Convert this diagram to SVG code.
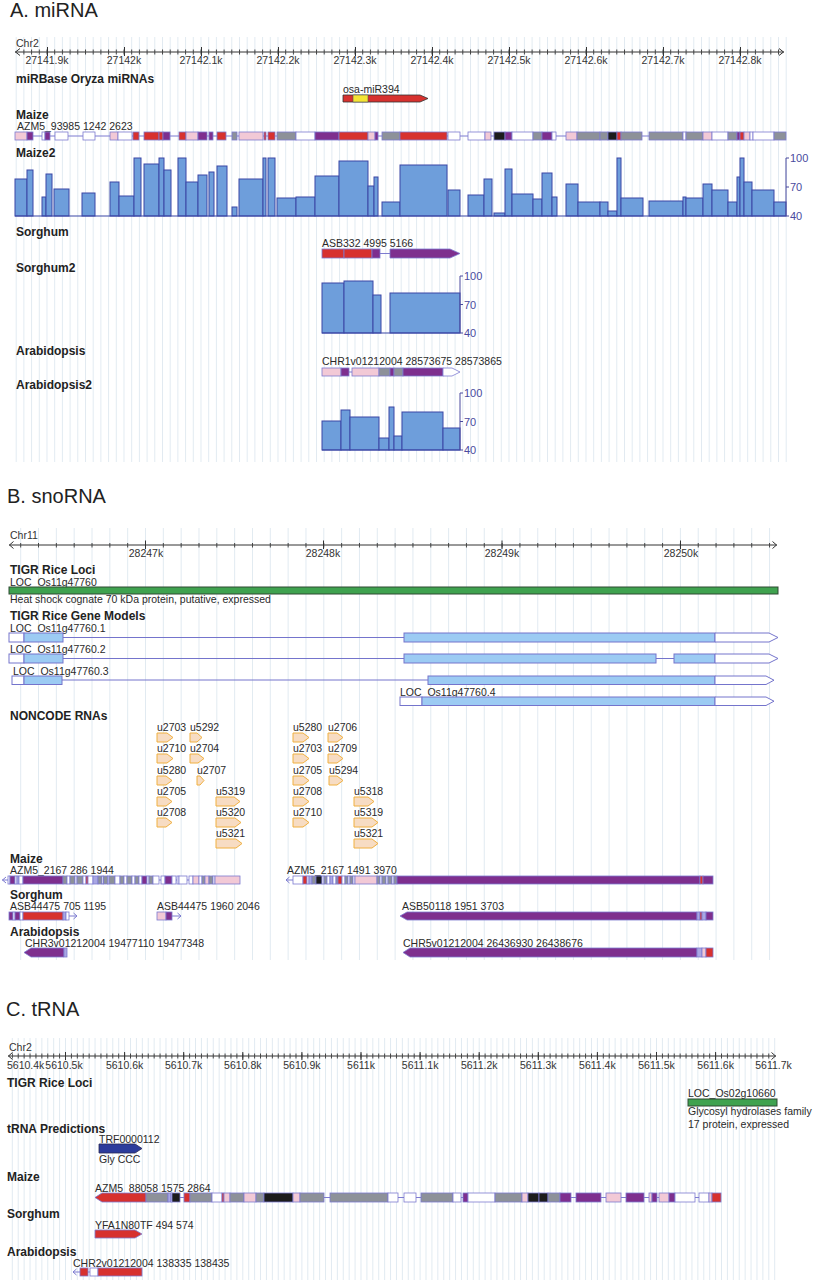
<svg xmlns="http://www.w3.org/2000/svg" width="813" height="1280" viewBox="0 0 813 1280">
<style>
text{font-family:"Liberation Sans",Arial,sans-serif;font-size:10.5px;fill:#2a2a2a}
.ttl{font-size:20px;fill:#222}
.b{font-weight:bold;font-size:12px;fill:#222}
.ax{font-size:10.5px;fill:#333}
.sc{font-size:11px;fill:#4a4a9e}
.mid{text-anchor:middle}
.r{fill:#d7312e;stroke:#7d7bd0;stroke-width:.8}
.p{fill:#7e2f8e;stroke:#7d7bd0;stroke-width:.8}
.k{fill:#f2c9d6;stroke:#7d7bd0;stroke-width:.8}
.g{fill:#8d9199;stroke:#7d7bd0;stroke-width:.8}
.n{fill:#1c1c1c;stroke:#7d7bd0;stroke-width:.8}
.w{fill:#fff;stroke:#7d7bd0;stroke-width:.8}
.v{fill:#a9a7e3;stroke:#7d7bd0;stroke-width:.8}
.in{stroke:#7d7bd0;stroke-width:1;fill:none}
.ch{stroke:#7d7bd0;stroke-width:1;fill:none}
.h{fill:#6e9edb;stroke:#3b46a6;stroke-width:1}
.hb{stroke:#3b46a6;stroke-width:1.2;fill:none}
.axl{stroke:#4a4a9e;stroke-width:1;fill:none}
.gm{fill:#9ccbf3;stroke:#7474cc;stroke-width:1}
.gw{fill:#fff;stroke:#7474cc;stroke-width:1}
.gl{stroke:#7474cc;stroke-width:1;fill:none}
.nc{fill:#f7dcc3;stroke:#f0b040;stroke-width:1}
.rl{stroke:#333;stroke-width:1;fill:none}
.grn{fill:#3fa24f;stroke:#2f4a33;stroke-width:1}
</style>
<defs>
<pattern id="gA" x="46.5" y="0" width="7.7" height="10" patternUnits="userSpaceOnUse"><rect width="1" height="10" fill="#e1eaf1"/></pattern>
<pattern id="gB" x="145" y="0" width="17.83" height="10" patternUnits="userSpaceOnUse"><rect width="1" height="10" fill="#e1eaf1"/></pattern>
<pattern id="gC" x="65" y="0" width="5.91" height="10" patternUnits="userSpaceOnUse"><rect width="1" height="10" fill="#e1eaf1"/></pattern>
<pattern id="tA" x="46.5" y="0" width="7.7" height="10" patternUnits="userSpaceOnUse"><rect width="1" height="10" fill="#444"/></pattern>
<pattern id="tB" x="145" y="0" width="17.83" height="10" patternUnits="userSpaceOnUse"><rect width="1" height="10" fill="#444"/></pattern>
<pattern id="tC" x="65" y="0" width="5.91" height="10" patternUnits="userSpaceOnUse"><rect width="1" height="10" fill="#444"/></pattern>
</defs>
<rect width="813" height="1280" fill="#fff"/>

<!-- ===================== A. miRNA ===================== -->
<g id="secA">
<text class="ttl" x="10" y="17">A. miRNA</text>
<rect x="15" y="37" width="772" height="425" fill="url(#gA)"/>
<g id="A-ruler">
<text class="ax" x="16" y="47">Chr2</text>
<line class="rl" x1="15" y1="52" x2="784" y2="52"/>
<path class="rl" d="M20,48.5 L15.5,52 L20,55.5 M779,48.5 L783.5,52 L779,55.5"/>
<rect x="17" y="49.5" width="763" height="5" fill="url(#tA)"/>
<path class="rl" d="M47.5,47V56M124.5,47V56M201.5,47V56M278.5,47V56M355.5,47V56M432.5,47V56M509.5,47V56M586.5,47V56M663.5,47V56M740.5,47V56"/>
<text class="ax mid" x="47" y="64">27141.9k</text>
<text class="ax mid" x="124" y="64">27142k</text>
<text class="ax mid" x="201" y="64">27142.1k</text>
<text class="ax mid" x="278" y="64">27142.2k</text>
<text class="ax mid" x="355" y="64">27142.3k</text>
<text class="ax mid" x="432" y="64">27142.4k</text>
<text class="ax mid" x="509" y="64">27142.5k</text>
<text class="ax mid" x="586" y="64">27142.6k</text>
<text class="ax mid" x="663" y="64">27142.7k</text>
<text class="ax mid" x="740" y="64">27142.8k</text>
</g>
<g id="A-mirbase">
<text class="b" x="16" y="83">miRBase Oryza miRNAs</text>
<text x="343" y="93">osa-miR394</text>
<polygon points="343,95 420,95 428,98.5 420,102 343,102" fill="#d7312e" stroke="#333" stroke-width="0.8"/>
<rect x="353" y="95" width="15" height="7" fill="#f4e434" stroke="#555" stroke-width="0.6"/>
</g>
<g id="A-maize">
<text class="b" x="16" y="119">Maize</text>
<text x="17" y="130">AZM5_93985 1242 2623</text>
<line class="in" x1="15" y1="136" x2="786" y2="136"/>
<rect class="k" x="15" y="132" width="12" height="8"/>
<rect class="p" x="27" y="132" width="6" height="8"/>
<rect class="w" x="42" y="132" width="3" height="8"/>
<rect class="p" x="45" y="132" width="5" height="8"/>
<rect class="w" x="55" y="132" width="13" height="8"/>
<rect class="w" x="83" y="132" width="12" height="8"/>
<rect class="k" x="110" y="132" width="8" height="8"/>
<rect class="w" x="118" y="132" width="14" height="8"/>
<rect class="r" x="133" y="132" width="6" height="8"/>
<rect class="r" x="144" y="132" width="15" height="8"/>
<rect class="r" x="159" y="132" width="4" height="8"/>
<rect class="p" x="163" y="132" width="7" height="8"/>
<rect class="r" x="179" y="132" width="7" height="8"/>
<rect class="k" x="186" y="132" width="12" height="8"/>
<rect class="p" x="198" y="132" width="9" height="8"/>
<rect class="p" x="209" y="132" width="4" height="8"/>
<rect class="r" x="217" y="132" width="9" height="8"/>
<rect class="g" x="232" y="132" width="5" height="8"/>
<rect class="k" x="239" y="132" width="24" height="8"/>
<rect class="r" x="264" y="132" width="2" height="8"/>
<rect class="r" x="268" y="132" width="7" height="8"/>
<rect class="g" x="277" y="132" width="19" height="8"/>
<rect class="w" x="296" y="132" width="19" height="8"/>
<rect class="p" x="315" y="132" width="24" height="8"/>
<rect class="r" x="339" y="132" width="29" height="8"/>
<rect class="k" x="368" y="132" width="7" height="8"/>
<rect class="p" x="375" y="132" width="3" height="8"/>
<rect class="g" x="382" y="132" width="18" height="8"/>
<rect class="r" x="400" y="132" width="47" height="8"/>
<rect class="w" x="448" y="132" width="12" height="8"/>
<rect class="w" x="468" y="132" width="17" height="8"/>
<rect class="k" x="485" y="132" width="6" height="8"/>
<rect class="n" x="494" y="132" width="11" height="8"/>
<rect class="p" x="505" y="132" width="7" height="8"/>
<rect class="w" x="512" y="132" width="21" height="8"/>
<rect class="g" x="533" y="132" width="9" height="8"/>
<rect class="p" x="542" y="132" width="10" height="8"/>
<rect class="w" x="552" y="132" width="4" height="8"/>
<rect class="k" x="566" y="132" width="11" height="8"/>
<rect class="g" x="577" y="132" width="23" height="8"/>
<rect class="g" x="600" y="132" width="8" height="8"/>
<rect class="n" x="608" y="132" width="9" height="8"/>
<rect class="r" x="617" y="132" width="4" height="8"/>
<rect class="g" x="621" y="132" width="21" height="8"/>
<rect class="g" x="649" y="132" width="34" height="8"/>
<rect class="w" x="683" y="132" width="3" height="8"/>
<rect class="g" x="686" y="132" width="17" height="8"/>
<rect class="k" x="703" y="132" width="9" height="8"/>
<rect class="w" x="712" y="132" width="16" height="8"/>
<rect class="g" x="728" y="132" width="9" height="8"/>
<rect class="p" x="737" y="132" width="3" height="8"/>
<rect class="r" x="740" y="132" width="4" height="8"/>
<rect class="k" x="744" y="132" width="6" height="8"/>
<rect class="w" x="750" y="132" width="3" height="8"/>
<rect class="w" x="753" y="132" width="21" height="8"/>
<rect class="g" x="774" y="132" width="12" height="8"/>
</g>
<g id="A-maize2">
<text class="b" x="16" y="157">Maize2</text>
<rect class="h" x="15" y="179" width="12" height="37"/>
<rect class="h" x="27" y="170" width="6" height="46"/>
<rect class="h" x="42" y="197" width="4" height="19"/>
<rect class="h" x="46" y="174" width="6" height="42"/>
<rect class="h" x="54" y="189" width="15" height="27"/>
<rect class="h" x="82" y="193" width="13" height="23"/>
<rect class="h" x="110" y="182" width="9" height="34"/>
<rect class="h" x="119" y="196" width="15" height="20"/>
<rect class="h" x="134" y="158" width="7" height="58"/>
<rect class="h" x="144" y="164" width="15" height="52"/>
<rect class="h" x="159" y="158" width="5" height="58"/>
<rect class="h" x="164" y="170" width="7" height="46"/>
<rect class="h" x="178" y="158" width="8" height="58"/>
<rect class="h" x="186" y="182" width="12" height="34"/>
<rect class="h" x="198" y="175" width="9" height="41"/>
<rect class="h" x="209" y="172" width="5" height="44"/>
<rect class="h" x="217" y="166" width="10" height="50"/>
<rect class="h" x="232" y="207" width="5" height="9"/>
<rect class="h" x="239" y="179" width="24" height="37"/>
<rect class="h" x="263" y="158" width="3" height="58"/>
<rect class="h" x="268" y="158" width="7" height="58"/>
<rect class="h" x="277" y="198" width="19" height="18"/>
<rect class="h" x="296" y="197" width="19" height="19"/>
<rect class="h" x="315" y="176" width="24" height="40"/>
<rect class="h" x="339" y="161" width="29" height="55"/>
<rect class="h" x="368" y="186" width="6" height="30"/>
<rect class="h" x="374" y="177" width="4" height="39"/>
<rect class="h" x="382" y="202" width="18" height="14"/>
<rect class="h" x="400" y="165" width="47" height="51"/>
<rect class="h" x="448" y="190" width="12" height="26"/>
<rect class="h" x="468" y="195" width="16" height="21"/>
<rect class="h" x="484" y="179" width="8" height="37"/>
<rect class="h" x="494" y="213" width="11" height="3"/>
<rect class="h" x="505" y="169" width="7" height="47"/>
<rect class="h" x="512" y="194" width="21" height="22"/>
<rect class="h" x="533" y="199" width="9" height="17"/>
<rect class="h" x="542" y="173" width="10" height="43"/>
<rect class="h" x="552" y="197" width="5" height="19"/>
<rect class="h" x="566" y="184" width="12" height="32"/>
<rect class="h" x="578" y="202" width="22" height="14"/>
<rect class="h" x="600" y="202" width="8" height="14"/>
<rect class="h" x="608" y="211" width="9" height="5"/>
<rect class="h" x="617" y="158" width="4" height="58"/>
<rect class="h" x="621" y="198" width="22" height="18"/>
<rect class="h" x="649" y="201" width="34" height="15"/>
<rect class="h" x="683" y="197" width="3" height="19"/>
<rect class="h" x="686" y="198" width="17" height="18"/>
<rect class="h" x="703" y="184" width="9" height="32"/>
<rect class="h" x="712" y="190" width="16" height="26"/>
<rect class="h" x="728" y="202" width="9" height="14"/>
<rect class="h" x="737" y="177" width="3" height="39"/>
<rect class="h" x="740" y="158" width="4" height="58"/>
<rect class="h" x="744" y="182" width="8" height="34"/>
<rect class="h" x="752" y="190" width="22" height="26"/>
<rect class="h" x="774" y="202" width="12" height="14"/>
<line class="hb" x1="15" y1="216" x2="786" y2="216"/>
<path class="axl" d="M786,158V216M786,158H789M786,187H789M786,216H789"/>
<text class="sc" x="790" y="162">100</text>
<text class="sc" x="790" y="191">70</text>
<text class="sc" x="790" y="220">40</text>
</g>
<g id="A-sorghum">
<text class="b" x="16" y="236">Sorghum</text>
<text x="322" y="247">ASB332 4995 5166</text>
<line class="in" x1="380" y1="253.5" x2="390" y2="253.5"/>
<rect class="r" x="322" y="249" width="22" height="9"/>
<rect class="r" x="344" y="249" width="28" height="9"/>
<rect class="p" x="372" y="249" width="8" height="9"/>
<polygon class="p" points="390,249 450,249 460,253.5 450,258 390,258"/>
</g>
<g id="A-sorghum2">
<text class="b" x="16" y="272">Sorghum2</text>
<rect class="h" x="322" y="283" width="22" height="50"/>
<rect class="h" x="344" y="281" width="29" height="52"/>
<rect class="h" x="373" y="295" width="8" height="38"/>
<rect class="h" x="390" y="293" width="70" height="40"/>
<line class="hb" x1="322" y1="333" x2="460" y2="333"/>
<path class="axl" d="M460,276V333M460,276H463M460,304.5H463M460,333H463"/>
<text class="sc" x="464" y="280">100</text>
<text class="sc" x="464" y="308.5">70</text>
<text class="sc" x="464" y="337">40</text>
</g>
<g id="A-arabidopsis">
<text class="b" x="16" y="355">Arabidopsis</text>
<text x="322" y="365">CHR1v01212004 28573675 28573865</text>
<line class="in" x1="349" y1="372" x2="352" y2="372"/>
<rect class="k" x="322" y="368" width="19" height="8"/>
<rect class="p" x="341" y="368" width="8" height="8"/>
<rect class="k" x="352" y="368" width="27" height="8"/>
<rect class="g" x="379" y="368" width="11" height="8"/>
<rect class="p" x="390" y="368" width="4" height="8"/>
<rect class="g" x="394" y="368" width="9" height="8"/>
<rect class="p" x="403" y="368" width="40" height="8"/>
<polygon class="w" points="443,368 452,368 460,372 452,376 443,376"/>
</g>
<g id="A-arabidopsis2">
<text class="b" x="16" y="389">Arabidopsis2</text>
<rect class="h" x="322" y="421" width="19" height="29"/>
<rect class="h" x="341" y="410" width="9" height="40"/>
<rect class="h" x="350" y="417" width="29" height="33"/>
<rect class="h" x="379" y="438" width="10" height="12"/>
<rect class="h" x="389" y="407" width="5" height="43"/>
<rect class="h" x="394" y="436" width="8" height="14"/>
<rect class="h" x="402" y="412" width="41" height="38"/>
<rect class="h" x="443" y="428" width="17" height="22"/>
<line class="hb" x1="322" y1="450" x2="460" y2="450"/>
<path class="axl" d="M460,393V450M460,393H463M460,421.5H463M460,450H463"/>
<text class="sc" x="464" y="397">100</text>
<text class="sc" x="464" y="425.5">70</text>
<text class="sc" x="464" y="454">40</text>
</g>
</g>

<!-- ===================== B. snoRNA ===================== -->
<g id="secB">
<text class="ttl" x="7" y="503">B. snoRNA</text>
<rect x="9" y="528" width="770" height="432" fill="url(#gB)"/>
<g id="B-ruler">
<text class="ax" x="10" y="539">Chr11</text>
<line class="rl" x1="9" y1="545" x2="777" y2="545"/>
<path class="rl" d="M13.5,541.5 L9.5,545 L13.5,548.5 M772.5,541.5 L776.5,545 L772.5,548.5"/>
<rect x="15" y="543" width="757" height="4.5" fill="url(#tB)"/>
<path class="rl" d="M145.5,540.5V549M323.5,540.5V549M502,540.5V549M680.5,540.5V549"/>
<text class="ax mid" x="146" y="557">28247k</text>
<text class="ax mid" x="323" y="557">28248k</text>
<text class="ax mid" x="502" y="557">28249k</text>
<text class="ax mid" x="681" y="557">28250k</text>
</g>
<g id="B-tigr-loci">
<text class="b" x="10" y="574">TIGR Rice Loci</text>
<text x="10" y="586">LOC_Os11g47760</text>
<rect class="grn" x="9" y="587" width="769" height="7"/>
<text x="10" y="603">Heat shock cognate 70 kDa protein, putative, expressed</text>
</g>
<g id="B-gene-models">
<text class="b" x="10" y="619.5">TIGR Rice Gene Models</text>
<g id="gm1">
<text x="10" y="632">LOC_Os11g47760.1</text>
<line class="gl" x1="63" y1="637.5" x2="404" y2="637.5"/>
<rect class="gw" x="9" y="633" width="15" height="9"/>
<rect class="gm" x="24" y="633" width="39" height="9"/>
<rect class="gm" x="404" y="633" width="311" height="9"/>
<polygon class="gw" points="715,633 769,633 778,637.5 769,642 715,642"/>
</g>
<g id="gm2">
<text x="10" y="652.5">LOC_Os11g47760.2</text>
<line class="gl" x1="63" y1="658.5" x2="674" y2="658.5"/>
<rect class="gw" x="9" y="654" width="15" height="9"/>
<rect class="gm" x="24" y="654" width="39" height="9"/>
<rect class="gm" x="404" y="654" width="252" height="9"/>
<rect class="gm" x="674" y="654" width="41" height="9"/>
<polygon class="gw" points="715,654 769,654 778,658.5 769,663 715,663"/>
</g>
<g id="gm3">
<text x="13" y="674.5">LOC_Os11g47760.3</text>
<line class="gl" x1="62" y1="680" x2="428" y2="680"/>
<rect class="gw" x="12" y="676" width="12" height="8.5"/>
<rect class="gm" x="24" y="676" width="38" height="8.5"/>
<rect class="gm" x="428" y="676" width="287" height="8.5"/>
<polygon class="gw" points="715,676 766,676 774,680.2 766,684.5 715,684.5"/>
</g>
<g id="gm4">
<text x="400" y="695.5">LOC_Os11g47760.4</text>
<rect class="gw" x="400" y="697" width="22" height="8.5"/>
<rect class="gm" x="422" y="697" width="293" height="8.5"/>
<polygon class="gw" points="715,697 766,697 774,701.2 766,705.5 715,705.5"/>
</g>
</g>
<g id="B-noncode">
<text class="b" x="10" y="720">NONCODE RNAs</text>
<g id="nc-left">
<text x="157" y="731">u2703</text><polygon class="nc" points="157,733 167,733 173,737.5 167,742 157,742"/>
<text x="190" y="731">u5292</text><polygon class="nc" points="190,733 197,733 202,737.5 197,742 190,742"/>
<text x="157" y="752">u2710</text><polygon class="nc" points="157,754 167,754 173,758.5 167,763 157,763"/>
<text x="190" y="752">u2704</text><polygon class="nc" points="190,754 198,754 204,758.5 198,763 190,763"/>
<text x="157" y="774">u5280</text><polygon class="nc" points="157,776 166,776 172,780.5 166,785 157,785"/>
<text x="197" y="774">u2707</text><polygon class="nc" points="197,776 200,776 204,780.5 200,785 197,785"/>
<text x="157" y="795">u2705</text><polygon class="nc" points="157,797 166,797 172,801.5 166,806 157,806"/>
<text x="216" y="795">u5319</text><polygon class="nc" points="216,797 234,797 240,801.5 234,806 216,806"/>
<text x="157" y="816">u2708</text><polygon class="nc" points="157,818 166,818 172,822.5 166,827 157,827"/>
<text x="216" y="816">u5320</text><polygon class="nc" points="216,818 235,818 241,822.5 235,827 216,827"/>
<text x="216" y="837">u5321</text><polygon class="nc" points="216,839 236,839 242,843.5 236,848 216,848"/>
</g>
<g id="nc-right">
<text x="293" y="731">u5280</text><polygon class="nc" points="293,733 303,733 309,737.5 303,742 293,742"/>
<text x="328" y="731">u2706</text><polygon class="nc" points="328,733 337,733 343,737.5 337,742 328,742"/>
<text x="293" y="752">u2703</text><polygon class="nc" points="293,754 303,754 309,758.5 303,763 293,763"/>
<text x="328" y="752">u2709</text><polygon class="nc" points="328,754 337,754 343,758.5 337,763 328,763"/>
<text x="293" y="774">u2705</text><polygon class="nc" points="293,776 303,776 309,780.5 303,785 293,785"/>
<text x="329" y="774">u5294</text><polygon class="nc" points="329,776 337,776 343,780.5 337,785 329,785"/>
<text x="293" y="795">u2708</text><polygon class="nc" points="293,797 303,797 309,801.5 303,806 293,806"/>
<text x="354" y="795">u5318</text><polygon class="nc" points="354,797 368,797 374,801.5 368,806 354,806"/>
<text x="293" y="816">u2710</text><polygon class="nc" points="293,818 303,818 309,822.5 303,827 293,827"/>
<text x="354" y="816">u5319</text><polygon class="nc" points="354,818 372,818 378,822.5 372,827 354,827"/>
<text x="354" y="837">u5321</text><polygon class="nc" points="354,839 372,839 378,843.5 372,848 354,848"/>
</g>
</g>
<g id="B-maize">
<text class="b" x="10" y="863">Maize</text>
<g id="B-maize-1">
<text x="10" y="874">AZM5_2167 286 1944</text>
<line class="in" x1="2" y1="880" x2="240" y2="880"/>
<path class="ch" d="M6,877 L2.5,880 L6,883"/>
<rect class="w" x="8" y="876" width="2" height="8"/>
<rect class="p" x="10" y="876" width="5" height="8"/>
<rect class="w" x="15" y="876" width="2" height="8"/>
<rect class="v" x="17" y="876" width="2" height="8"/>
<rect class="w" x="19" y="876" width="4" height="8"/>
<rect class="p" x="23" y="876" width="40" height="8"/>
<rect class="g" x="63" y="876" width="4" height="8"/>
<rect class="w" x="67" y="876" width="3" height="8"/>
<rect class="g" x="70" y="876" width="5" height="8"/>
<rect class="w" x="75" y="876" width="2" height="8"/>
<rect class="g" x="77" y="876" width="6" height="8"/>
<rect class="w" x="83" y="876" width="3" height="8"/>
<rect class="r" x="86" y="876" width="2" height="8"/>
<rect class="w" x="88" y="876" width="5" height="8"/>
<rect class="v" x="93" y="876" width="5" height="8"/>
<rect class="g" x="98" y="876" width="4" height="8"/>
<rect class="w" x="102" y="876" width="1.5" height="8"/>
<rect class="g" x="103.5" y="876" width="4" height="8"/>
<rect class="w" x="107.5" y="876" width="1.5" height="8"/>
<rect class="g" x="109" y="876" width="6" height="8"/>
<rect class="w" x="115" y="876" width="5" height="8"/>
<rect class="g" x="120" y="876" width="4" height="8"/>
<rect class="w" x="124" y="876" width="3" height="8"/>
<rect class="g" x="127" y="876" width="5" height="8"/>
<rect class="w" x="132" y="876" width="3" height="8"/>
<rect class="g" x="135" y="876" width="4" height="8"/>
<rect class="w" x="139" y="876" width="3" height="8"/>
<rect class="p" x="142" y="876" width="5" height="8"/>
<rect class="w" x="147" y="876" width="2" height="8"/>
<rect class="g" x="149" y="876" width="4" height="8"/>
<rect class="w" x="153" y="876" width="6" height="8"/>
<rect class="w" x="161" y="876" width="4" height="8"/>
<rect class="p" x="165" y="876" width="7" height="8"/>
<rect class="w" x="172" y="876" width="4" height="8"/>
<rect class="w" x="177" y="876" width="2" height="8"/>
<rect class="w" x="179" y="876" width="8" height="8"/>
<rect class="w" x="189" y="876" width="4" height="8"/>
<rect class="k" x="193" y="876" width="6" height="8"/>
<rect class="w" x="199" y="876" width="3" height="8"/>
<rect class="g" x="202" y="876" width="3" height="8"/>
<rect class="k" x="205" y="876" width="4" height="8"/>
<rect class="g" x="209" y="876" width="4" height="8"/>
<rect class="w" x="213" y="876" width="2" height="8"/>
<rect class="k" x="215" y="876" width="25" height="8"/>
</g>
<g id="B-maize-2">
<text x="287" y="874">AZM5_2167 1491 3970</text>
<line class="in" x1="286" y1="880" x2="293" y2="880"/>
<path class="ch" d="M289.5,877 L286,880 L289.5,883"/>
<rect class="w" x="293" y="876" width="10" height="8"/>
<rect class="r" x="303" y="876" width="4" height="8"/>
<rect class="w" x="307" y="876" width="2" height="8"/>
<rect class="v" x="309" y="876" width="3" height="8"/>
<rect class="g" x="312" y="876" width="4" height="8"/>
<rect class="n" x="316" y="876" width="6" height="8"/>
<rect class="w" x="322" y="876" width="2" height="8"/>
<rect class="g" x="324" y="876" width="3" height="8"/>
<rect class="w" x="327" y="876" width="3" height="8"/>
<rect class="v" x="330" y="876" width="3" height="8"/>
<rect class="w" x="333" y="876" width="3" height="8"/>
<rect class="g" x="336" y="876" width="2" height="8"/>
<rect class="r" x="338" y="876" width="4" height="8"/>
<rect class="w" x="342" y="876" width="3" height="8"/>
<rect class="g" x="345" y="876" width="3" height="8"/>
<rect class="w" x="348" y="876" width="2" height="8"/>
<rect class="g" x="350" y="876" width="3" height="8"/>
<rect class="w" x="353" y="876" width="2" height="8"/>
<rect class="k" x="355" y="876" width="22" height="8"/>
<rect class="g" x="377" y="876" width="3" height="8"/>
<rect class="w" x="380" y="876" width="2" height="8"/>
<rect class="g" x="382" y="876" width="4" height="8"/>
<rect class="w" x="386" y="876" width="2" height="8"/>
<rect class="g" x="388" y="876" width="4" height="8"/>
<rect class="w" x="392" y="876" width="2" height="8"/>
<rect class="g" x="394" y="876" width="3" height="8"/>
<rect class="p" x="397" y="876" width="303" height="8"/>
<rect class="r" x="700" y="876" width="3" height="8"/>
<rect class="p" x="703" y="876" width="10" height="8"/>
</g>
</g>
<g id="B-sorghum">
<text class="b" x="10" y="899">Sorghum</text>
<g id="B-sorghum-1">
<text x="10" y="910">ASB44475 705 1195</text>
<line class="in" x1="69" y1="916" x2="77" y2="916"/>
<path class="ch" d="M73.5,913 L77,916 L73.5,919"/>
<rect class="p" x="9" y="912" width="4" height="8"/>
<rect class="w" x="13" y="912" width="2" height="8"/>
<rect class="p" x="15" y="912" width="5" height="8"/>
<rect class="w" x="20" y="912" width="3" height="8"/>
<rect class="r" x="23" y="912" width="40" height="8"/>
<rect class="v" x="63" y="912" width="3" height="8"/>
<rect class="w" x="66" y="912" width="3" height="8"/>
</g>
<g id="B-sorghum-2">
<text x="157" y="910">ASB44475 1960 2046</text>
<line class="in" x1="172" y1="916" x2="181" y2="916"/>
<path class="ch" d="M177.5,913 L181,916 L177.5,919"/>
<rect class="k" x="157" y="912" width="9" height="8"/>
<rect class="p" x="166" y="912" width="6" height="8"/>
</g>
<g id="B-sorghum-3">
<text x="402" y="910">ASB50118 1951 3703</text>
<polygon class="p" points="400,916 407,912 697,912 697,920 407,920"/>
<rect class="v" x="697" y="912" width="3" height="8"/>
<rect class="r" x="700" y="912" width="2" height="8"/>
<rect class="v" x="702" y="912" width="4" height="8"/>
<rect class="p" x="706" y="912" width="7" height="8"/>
</g>
</g>
<g id="B-arabidopsis">
<text class="b" x="10" y="936">Arabidopsis</text>
<g id="B-arab-1">
<text x="25" y="947">CHR3v01212004 19477110 19477348</text>
<polygon class="p" points="24,952.5 31,948 64,948 64,957 31,957"/>
<rect class="v" x="64" y="948" width="3" height="9"/>
</g>
<g id="B-arab-2">
<text x="403" y="947">CHR5v01212004 26436930 26438676</text>
<polygon class="p" points="403,952.5 410,948 697,948 697,957 410,957"/>
<rect class="v" x="697" y="948" width="5" height="9"/>
<rect class="k" x="702" y="948" width="4" height="9"/>
<rect class="r" x="706" y="948" width="7" height="9"/>
</g>
</g>
</g>

<!-- ===================== C. tRNA ===================== -->
<g id="secC">
<text class="ttl" x="6" y="1016">C. tRNA</text>
<rect x="8" y="1038" width="770" height="242" fill="url(#gC)"/>
<g id="C-ruler">
<text class="ax" x="9" y="1051">Chr2</text>
<line class="rl" x1="8" y1="1056" x2="776" y2="1056"/>
<path class="rl" d="M12.5,1052.5 L8.5,1056 L12.5,1059.5 M771.5,1052.5 L775.5,1056 L771.5,1059.5"/>
<rect x="12" y="1053.5" width="758" height="5" fill="url(#tC)"/>
<path class="rl" d="M65.5,1052V1060M124.6,1052V1060M183.7,1052V1060M242.8,1052V1060M301.9,1052V1060M361,1052V1060M420.1,1052V1060M479.2,1052V1060M538.3,1052V1060M597.4,1052V1060M656.5,1052V1060M715.6,1052V1060"/>
<text class="ax" x="7" y="1069">5610.4k</text>
<text class="ax mid" x="64" y="1069">5610.5k</text>
<text class="ax mid" x="124.6" y="1069">5610.6k</text>
<text class="ax mid" x="183.7" y="1069">5610.7k</text>
<text class="ax mid" x="242.8" y="1069">5610.8k</text>
<text class="ax mid" x="301.9" y="1069">5610.9k</text>
<text class="ax mid" x="361" y="1069">5611k</text>
<text class="ax mid" x="420.1" y="1069">5611.1k</text>
<text class="ax mid" x="479.2" y="1069">5611.2k</text>
<text class="ax mid" x="538.3" y="1069">5611.3k</text>
<text class="ax mid" x="597.4" y="1069">5611.4k</text>
<text class="ax mid" x="656.5" y="1069">5611.5k</text>
<text class="ax mid" x="715.6" y="1069">5611.6k</text>
<text class="ax mid" x="773.5" y="1069">5611.7k</text>
</g>
<g id="C-tigr-loci">
<text class="b" x="7" y="1087">TIGR Rice Loci</text>
<text x="688" y="1097">LOC_Os02g10660</text>
<rect class="grn" x="688" y="1099" width="89" height="7"/>
<text x="688" y="1115">Glycosyl hydrolases family</text>
<text x="688" y="1128">17 protein, expressed</text>
</g>
<g id="C-trna">
<text class="b" x="7" y="1133">tRNA Predictions</text>
<text x="99" y="1143">TRF0000112</text>
<polygon points="99,1144 135,1144 142,1148.5 135,1153 99,1153" fill="#2c3c9c" stroke="#2a2a55" stroke-width="0.8"/>
<text x="99" y="1163">Gly CCC</text>
</g>
<g id="C-maize">
<text class="b" x="7" y="1181">Maize</text>
<text x="95" y="1192">AZM5_88058 1575 2864</text>
<line class="in" x1="95" y1="1197.5" x2="721" y2="1197.5"/>
<polygon class="r" points="95,1197.5 102,1193 146,1193 146,1202 102,1202"/>
<rect class="g" x="146" y="1193" width="22" height="9"/>
<rect class="v" x="168" y="1193" width="3" height="9"/>
<rect class="w" x="171" y="1193" width="1" height="9"/>
<rect class="n" x="172" y="1193" width="8" height="9"/>
<rect class="r" x="184" y="1193" width="6" height="9"/>
<rect class="g" x="190" y="1193" width="22" height="9"/>
<rect class="w" x="212" y="1193" width="10" height="9"/>
<rect class="r" x="222" y="1193" width="2" height="9"/>
<rect class="k" x="224" y="1193" width="6" height="9"/>
<rect class="g" x="230" y="1193" width="14" height="9"/>
<rect class="k" x="244" y="1193" width="12" height="9"/>
<rect class="g" x="256" y="1193" width="8" height="9"/>
<rect class="n" x="264" y="1193" width="29" height="9"/>
<rect class="k" x="293" y="1193" width="7" height="9"/>
<rect class="g" x="300" y="1193" width="24" height="9"/>
<rect class="g" x="330" y="1193" width="58" height="9"/>
<rect class="w" x="388" y="1193" width="10" height="9"/>
<rect class="w" x="404" y="1193" width="12" height="9"/>
<rect class="g" x="421" y="1193" width="32" height="9"/>
<rect class="w" x="453" y="1193" width="8" height="9"/>
<rect class="p" x="463" y="1193" width="5" height="9"/>
<rect class="w" x="468" y="1193" width="27" height="9"/>
<rect class="g" x="495" y="1193" width="27" height="9"/>
<rect class="k" x="522" y="1193" width="6" height="9"/>
<rect class="n" x="528" y="1193" width="11" height="9"/>
<rect class="n" x="539" y="1193" width="9" height="9"/>
<rect class="g" x="548" y="1193" width="12" height="9"/>
<rect class="p" x="560" y="1193" width="11" height="9"/>
<rect class="p" x="576" y="1193" width="25" height="9"/>
<rect class="k" x="606" y="1193" width="15" height="9"/>
<rect class="p" x="626" y="1193" width="18" height="9"/>
<rect class="k" x="649" y="1193" width="3" height="9"/>
<rect class="p" x="652" y="1193" width="5" height="9"/>
<rect class="k" x="659" y="1193" width="10" height="9"/>
<rect class="p" x="669" y="1193" width="6" height="9"/>
<rect class="w" x="675" y="1193" width="20" height="9"/>
<rect class="w" x="699" y="1193" width="10" height="9"/>
<rect class="k" x="709" y="1193" width="3" height="9"/>
<rect class="r" x="712" y="1193" width="9" height="9"/>
</g>
<g id="C-sorghum">
<text class="b" x="7" y="1218">Sorghum</text>
<text x="95" y="1229">YFA1N80TF 494 574</text>
<polygon class="r" points="95,1230 135,1230 142,1234 135,1238 95,1238"/>
</g>
<g id="C-arabidopsis">
<text class="b" x="7" y="1256">Arabidopsis</text>
<text x="73" y="1267">CHR2v01212004 138335 138435</text>
<line class="in" x1="73" y1="1272" x2="98" y2="1272"/>
<path class="ch" d="M76.5,1269 L73,1272 L76.5,1275"/>
<rect class="r" x="80" y="1268" width="8" height="8"/>
<rect class="w" x="90" y="1268" width="8" height="8"/>
<rect class="r" x="98" y="1268" width="44" height="8"/>
</g>
</g>
</svg>
